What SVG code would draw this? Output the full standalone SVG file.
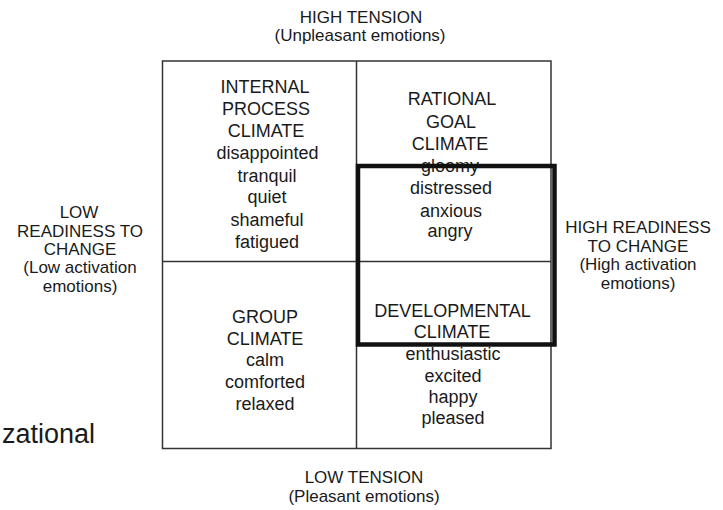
<svg xmlns="http://www.w3.org/2000/svg" width="723" height="510" viewBox="0 0 723 510">
<style>
text{font-family:"Liberation Sans",Arial,sans-serif;fill:#1a1a1a;text-anchor:middle}
.q{font-size:18px}
.h{font-size:17px}
.grid{fill:none;stroke:#333;stroke-width:1.5}
.focus{fill:none;stroke:#111;stroke-width:4.5}
</style>
<rect width="723" height="510" fill="#fff"/>
<g id="grid">
<rect class="grid" x="162.5" y="61" width="388.5" height="387.5"/>
<line class="grid" x1="356.5" y1="61" x2="356.5" y2="448.5"/>
<line class="grid" x1="162.5" y1="261.5" x2="551" y2="261.5"/>
</g>
<g id="top-label" class="h">
<text x="361" y="23">HIGH TENSION</text>
<text x="360" y="41">(Unpleasant emotions)</text>
</g>
<g id="bottom-label" class="h">
<text x="364" y="483">LOW TENSION</text>
<text x="364" y="502">(Pleasant emotions)</text>
</g>
<g id="left-label" class="h">
<text x="79" y="218">LOW</text>
<text x="80" y="237">READINESS TO</text>
<text x="80" y="255">CHANGE</text>
<text x="80" y="273">(Low activation</text>
<text x="80" y="291.5">emotions)</text>
</g>
<g id="right-label" class="h">
<text x="638" y="233">HIGH READINESS</text>
<text x="638" y="251.5">TO CHANGE</text>
<text x="638" y="270">(High activation</text>
<text x="638" y="288.5">emotions)</text>
</g>
<g id="internal-process" class="q">
<text x="265" y="93">INTERNAL</text>
<text x="266" y="114.5">PROCESS</text>
<text x="266" y="136.5">CLIMATE</text>
<text x="267.5" y="159">disappointed</text>
<text x="267" y="181.5">tranquil</text>
<text x="267" y="203">quiet</text>
<text x="267" y="225.5">shameful</text>
<text x="267" y="247.5">fatigued</text>
</g>
<g id="rational-goal" class="q">
<text x="452" y="105">RATIONAL</text>
<text x="451" y="127.5">GOAL</text>
<text x="450" y="149.5">CLIMATE</text>
<text x="450" y="172">gloomy</text>
<text x="451" y="194">distressed</text>
<text x="451" y="216.5">anxious</text>
<text x="450" y="236.5">angry</text>
</g>
<g id="group" class="q">
<text x="265" y="323">GROUP</text>
<text x="265" y="344.5">CLIMATE</text>
<text x="265" y="366">calm</text>
<text x="265" y="388">comforted</text>
<text x="265" y="410">relaxed</text>
</g>
<g id="developmental" class="q">
<text x="452.5" y="317">DEVELOPMENTAL</text>
<text x="452" y="338">CLIMATE</text>
<text x="453" y="359.5">enthusiastic</text>
<text x="453" y="381.5">excited</text>
<text x="453" y="402.5">happy</text>
<text x="453" y="423.5">pleased</text>
</g>
<g id="highlight">
<rect class="focus" x="358" y="166" width="196.5" height="178.5"/>
</g>
<g id="cut-word">
<text x="95" y="443" style="font-size:27px;text-anchor:end">zational</text>
</g>
</svg>
